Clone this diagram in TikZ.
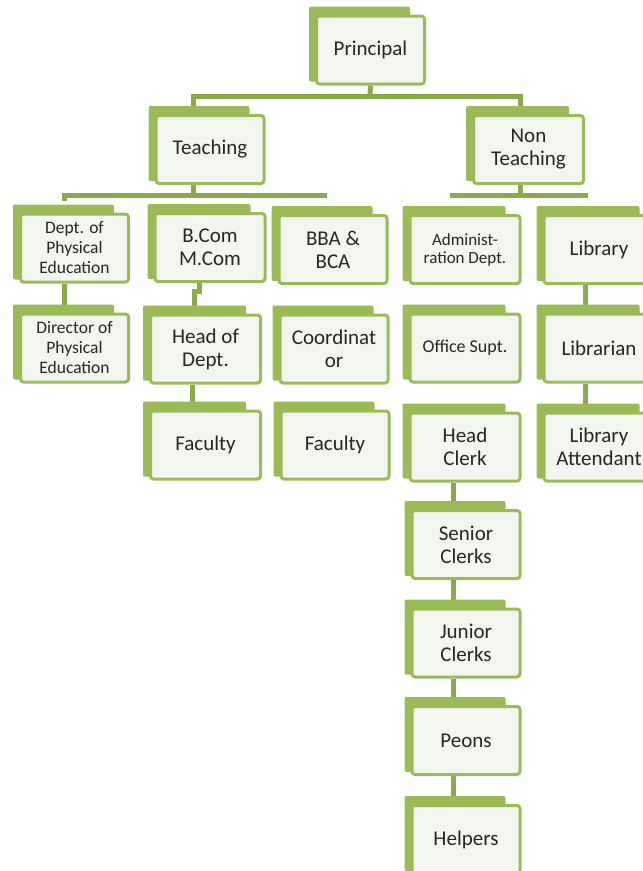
\documentclass[tikz,border=0pt]{standalone}
\usepackage{fontspec}
\setmainfont{Carlito}
\usetikzlibrary{backgrounds}
\definecolor{gborder}{HTML}{9BBB59}
\definecolor{gconn}{HTML}{8CA94D}
\definecolor{boxfill}{HTML}{F3F6EE}
\begin{document}
\begin{tikzpicture}[x=1pt,y=-1pt,
  orgbox/.style={draw=gborder, line width=3pt, fill=boxfill, rounded corners=3pt,
    align=center, inner sep=0pt, text=black!85,
    minimum width=108pt, minimum height=68pt},
  backbox/.style={fill=gborder, rounded corners=2pt},
  conn/.style={draw=gconn, line width=5pt},
  fa/.style={font=\fontsize{21}{23}\selectfont},
  fc/.style={font=\fontsize{17.5}{20}\selectfont},
  fd/.style={font=\fontsize{17}{18}\selectfont},
  fe/.style={font=\fontsize{18}{20}\selectfont},
]
\useasboundingbox (0,0) rectangle (643,871);
\clip (0,0) rectangle (643,871);

% level 0/1
\node[orgbox, fa] (P) at (370.5,50) {Principal};
\node[orgbox, fa] (T) at (210,149.5) {Teaching};
\node[orgbox, fa, minimum width=110pt] (NT) at (528.5,149.5) {Non\\Teaching};

% teaching branch
\node[orgbox, fc] (DPE) at (74.5,248) {Dept. of\\Physical\\Education};
\node[orgbox, fa, minimum width=110pt] (BC) at (210,247.5) {B.Com\\M.Com};
\node[orgbox, fa] (BBA) at (333,249.5) {BBA \&\\BCA};
\node[orgbox, fc] (DIR) at (74.5,348) {Director of\\Physical\\Education};
\node[orgbox, fa, minimum width=110pt] (HOD) at (205.5,349) {Head of\\Dept.};
\node[orgbox, fa] (CO) at (334,349) {Coordinat\\or};
\node[orgbox, fa, minimum width=110pt] (F1) at (205.5,445) {Faculty};
\node[orgbox, fa] (F2) at (335,445) {Faculty};

% non-teaching branch
\node[orgbox, fd, minimum width=110pt] (AD) at (465,249.5) {Administ-\\ration Dept.};
\node[orgbox, fa, minimum width=110pt] (LIB) at (599,249.5) {Library};
\node[orgbox, fe, minimum width=110pt] (OS) at (465,348) {Office Supt.};
\node[orgbox, fa, minimum width=110pt] (LN) at (599,348) {Librarian};
\node[orgbox, fa, minimum width=110pt] (HC) at (465,447) {Head\\Clerk};
\node[orgbox, fa, minimum width=110pt] (LA) at (599,447) {Library\\Attendant};
\node[orgbox, fa] (SC) at (466,544.5) {Senior\\Clerks};
\node[orgbox, fa] (JC) at (466,643) {Junior\\Clerks};
\node[orgbox, fa] (PE) at (466,740.5) {Peons};
\node[orgbox, fa] (HE) at (466,839.5) {Helpers};

\begin{pgfonlayer}{background}
  \coordinate (j0) at (370,96);
  \coordinate (jT) at (193,96);
  \coordinate (jN) at (520,96);
  \draw[conn] (P.south) -- (j0);
  \draw[conn] (jT |- T.north) -- (jT) -- (jN) -- (jN |- NT.north);
  % teaching bar
  \coordinate (t1) at (193,195);
  \coordinate (tL) at (64,195);
  \coordinate (tLd) at (64,201);
  \coordinate (tR) at (327,195);
  \draw[conn] (t1 |- T.south) -- (t1);
  \draw[conn] (tLd) -- (tL) -- (tR);
  % non-teaching bar
  \coordinate (n1) at (520,195);
  \coordinate (nL) at (450,195);
  \coordinate (nR) at (588,195);
  \draw[conn] (n1 |- NT.south) -- (n1);
  \draw[conn] (nL) -- (nR);
  % verticals
  \coordinate (x1) at (64,0);
  \draw[conn] (x1 |- DPE.south) -- (x1 |- DIR.north);
  \coordinate (x2) at (199,291);
  \coordinate (x2b) at (194,291);
  \draw[conn] (x2 |- BC.south) -- (x2) -- (x2b) -- (x2b |- HOD.north);
  \coordinate (x3) at (192,0);
  \draw[conn] (x3 |- HOD.south) -- (x3 |- F1.north);
  \coordinate (x4) at (585,0);
  \draw[conn] (x4 |- LIB.south) -- (x4 |- LN.north);
  \draw[conn] (x4 |- LN.south) -- (x4 |- LA.north);
  \coordinate (x5) at (453,0);
  \draw[conn] (x5 |- HC.south) -- (x5 |- SC.north);
  \draw[conn] (x5 |- SC.south) -- (x5 |- JC.north);
  \draw[conn] (x5 |- JC.south) -- (x5 |- PE.north);
  \draw[conn] (x5 |- PE.south) -- (x5 |- HE.north);
  % back plates of the boxes
  \foreach \n in {P,T,NT,DPE,BC,BBA,DIR,HOD,CO,F1,F2,AD,LIB,OS,LN,HC,LA,SC,JC,PE,HE}
    \fill[backbox] ([shift={(-6pt,8pt)}]\n.north west) rectangle ([shift={(-16pt,4pt)}]\n.south east);
\end{pgfonlayer}
\end{tikzpicture}
\end{document}
